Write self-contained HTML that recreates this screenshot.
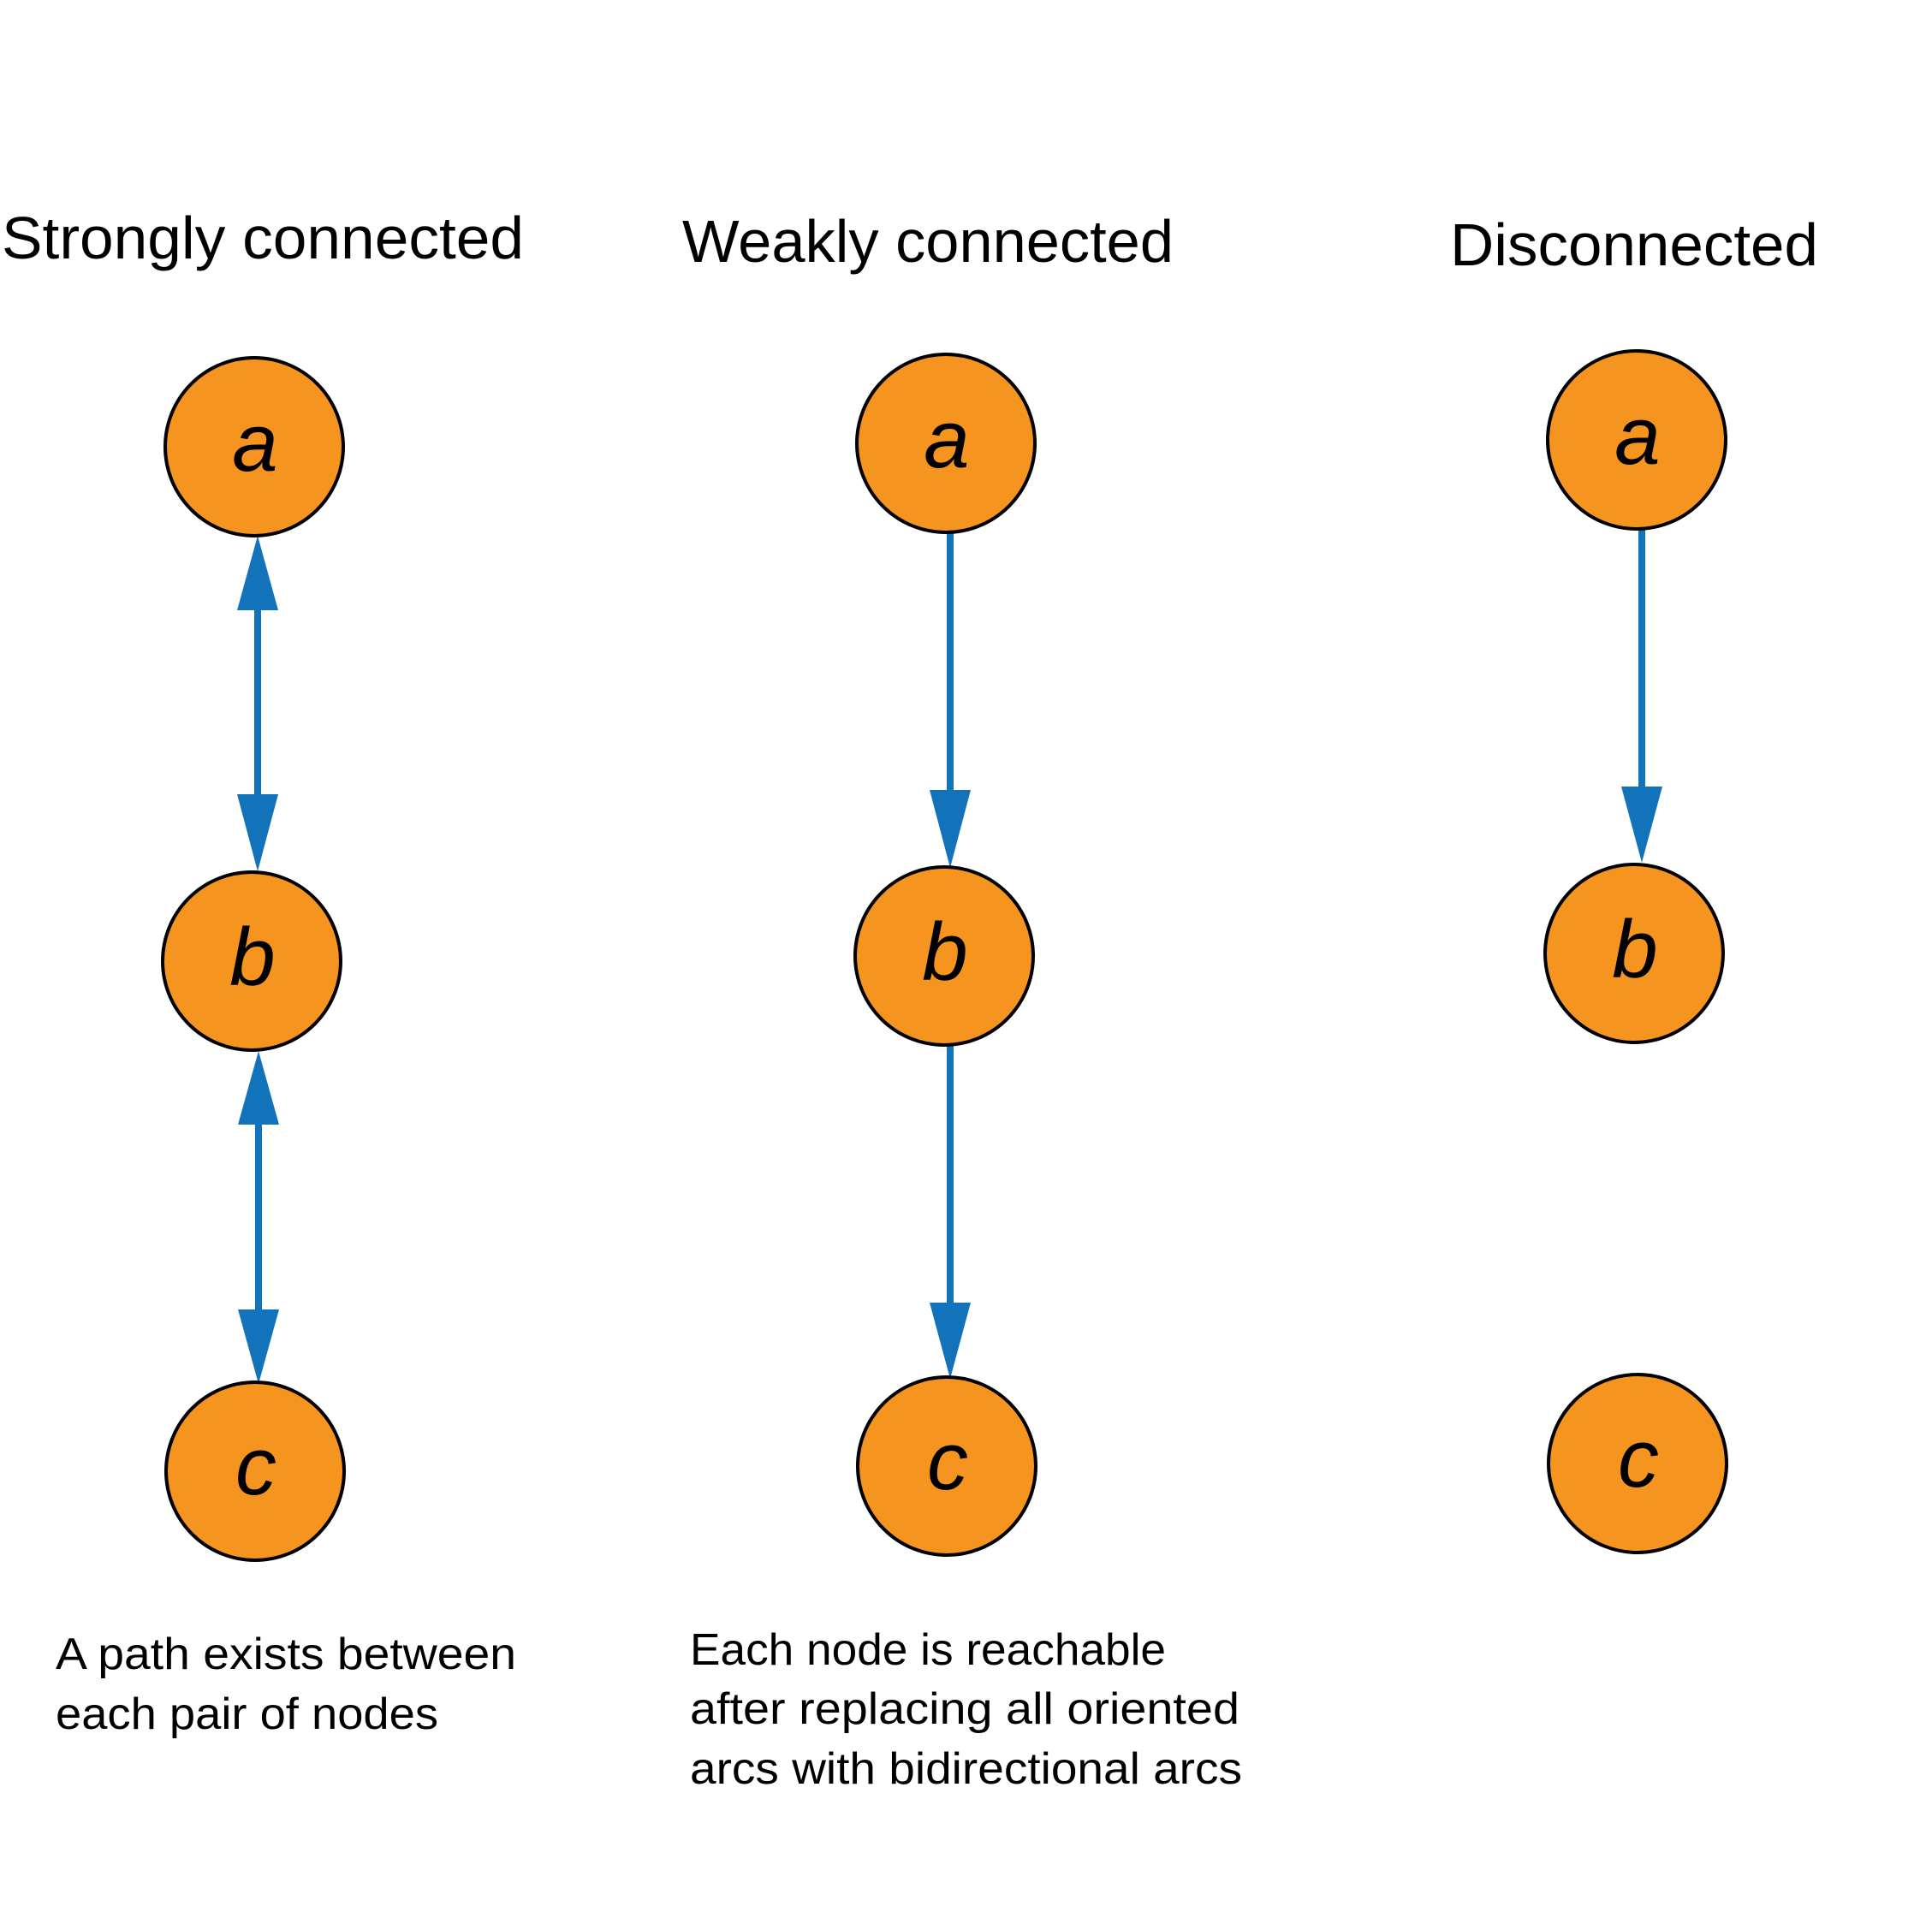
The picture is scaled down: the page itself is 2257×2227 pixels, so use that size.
<!DOCTYPE html>
<html><head><style>html,body{margin:0;padding:0;background:#fff;}svg{display:block}</style></head>
<body>
<svg width="2257" height="2227" viewBox="0 0 2257 2227" xmlns="http://www.w3.org/2000/svg">
<g font-family="Liberation Sans, DejaVu Sans, sans-serif" fill="#000">
<text x="2" y="302" font-size="70" textLength="610" lengthAdjust="spacingAndGlyphs">Strongly connected</text>
<text x="797" y="306" font-size="70" textLength="574" lengthAdjust="spacingAndGlyphs">Weakly connected</text>
<text x="1694" y="310" font-size="70" textLength="430" lengthAdjust="spacingAndGlyphs">Disconnected</text>
<text x="65" y="1950" font-size="52" textLength="538" lengthAdjust="spacingAndGlyphs">A path exists between</text>
<text x="65" y="2020" font-size="52" textLength="447" lengthAdjust="spacingAndGlyphs">each pair of nodes</text>
<text x="806" y="1945" font-size="52" textLength="556" lengthAdjust="spacingAndGlyphs">Each node is reachable</text>
<text x="806" y="2014" font-size="52" textLength="642" lengthAdjust="spacingAndGlyphs">after replacing all oriented</text>
<text x="806" y="2084" font-size="52" textLength="645" lengthAdjust="spacingAndGlyphs">arcs with bidirectional arcs</text>
</g>
<g stroke="#1273bb" stroke-width="8">
<line x1="301" y1="710" x2="301" y2="932"/>
<line x1="302" y1="1311" x2="302" y2="1535"/>
<line x1="1110" y1="622" x2="1110" y2="928"/>
<line x1="1110" y1="1220" x2="1110" y2="1528"/>
<line x1="1918" y1="617" x2="1918" y2="924"/>
</g>
<g fill="#1273bb">
<polygon points="301,626 277,713 325,713"/>
<polygon points="301,1018 277,928 325,928"/>
<polygon points="302,1228 278,1314 326,1314"/>
<polygon points="302,1617 278,1530 326,1530"/>
<polygon points="1110,1014 1086,923 1134,923"/>
<polygon points="1110,1611 1086,1522 1134,1522"/>
<polygon points="1918,1008 1894,919 1942,919"/>
</g>
<g fill="#f59520" stroke="#000" stroke-width="4">
<circle cx="297" cy="522" r="104"/>
<circle cx="294" cy="1123" r="104"/>
<circle cx="298" cy="1719" r="104"/>
<circle cx="1105" cy="518" r="104"/>
<circle cx="1103" cy="1117" r="104"/>
<circle cx="1106" cy="1713" r="104"/>
<circle cx="1912" cy="514" r="104"/>
<circle cx="1909" cy="1114" r="104"/>
<circle cx="1913" cy="1710" r="104"/>
</g>
<g font-family="Liberation Sans, DejaVu Sans, sans-serif" font-style="italic" font-size="96" text-anchor="middle" fill="#000">
<text x="298" y="550">a</text>
<text x="295" y="1151">b</text>
<text x="299" y="1746">c</text>
<text x="1106" y="546">a</text>
<text x="1104" y="1145">b</text>
<text x="1107" y="1740">c</text>
<text x="1913" y="542">a</text>
<text x="1910" y="1142">b</text>
<text x="1914" y="1737">c</text>
</g>
</svg>
</body></html>
